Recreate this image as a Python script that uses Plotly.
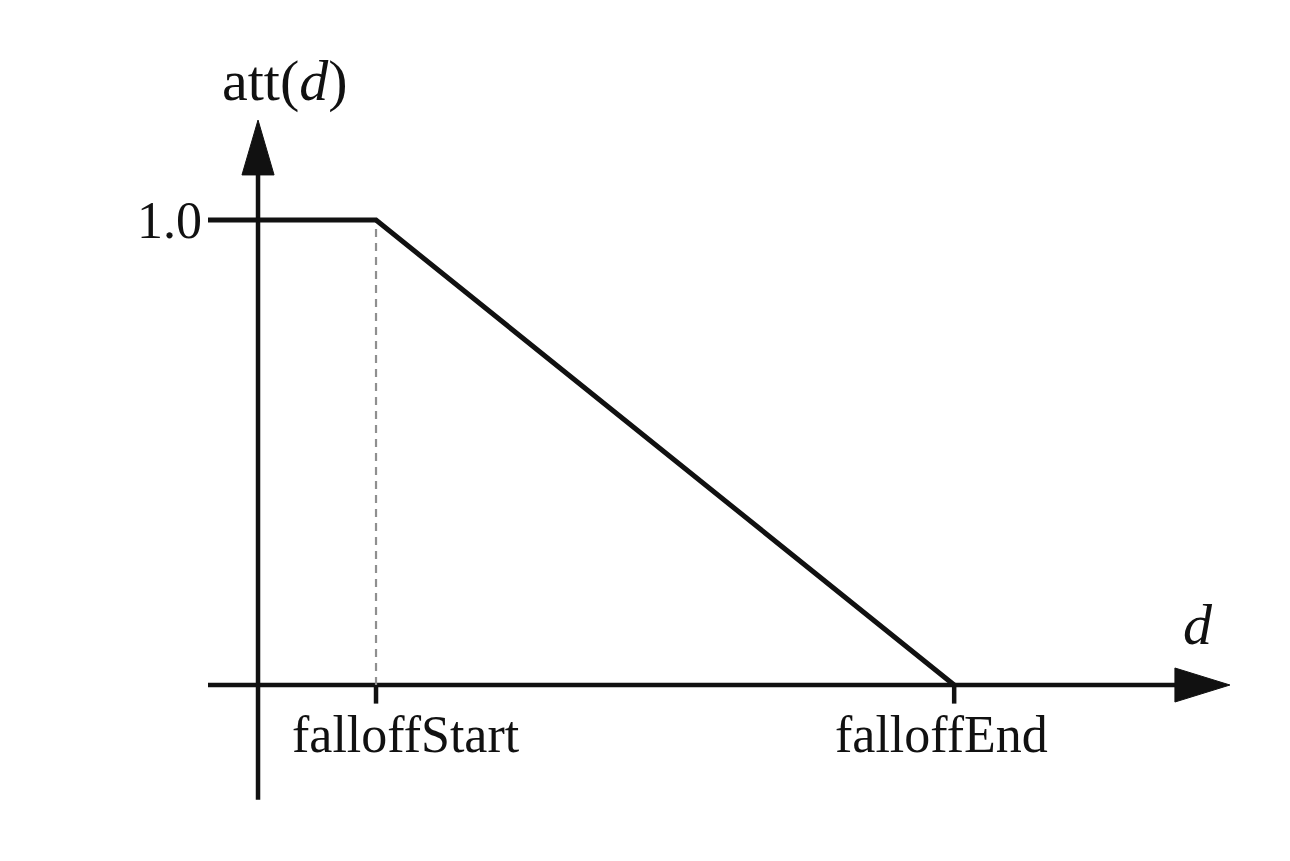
import plotly.graph_objects as go

# --- data ---
falloff_start = 1.0
falloff_end = 5.9
att_level = 1.0
curve_x = [-0.424, falloff_start, falloff_end]
curve_y = [att_level, att_level, 0.0]
tick_labels = ["falloffStart", "falloffEnd"]
tick_values = [falloff_start, falloff_end]
y_tick_label = "1.0"

# axis extents (data units)
x_min, x_max = -2.119, 8.814
y_min, y_max = -0.3957, 1.456
xaxis_start, xaxis_tip = -0.424, 8.237
yaxis_start, yaxis_tip = -0.247, 1.215

FONT = "Liberation Serif"
BLACK = "#111111"

fig = go.Figure()

# x axis line + arrow
fig.add_trace(go.Scatter(x=[xaxis_start, xaxis_tip - 0.4], y=[0, 0], mode="lines",
                         line=dict(color=BLACK, width=4.5), hoverinfo="skip", showlegend=False))
fig.add_trace(go.Scatter(x=[xaxis_tip - 0.466, xaxis_tip, xaxis_tip - 0.466, xaxis_tip - 0.466],
                         y=[0.0366, 0, -0.0366, 0.0366], mode="lines", fill="toself",
                         fillcolor=BLACK, line=dict(color=BLACK, width=1),
                         hoverinfo="skip", showlegend=False))
# y axis line + arrow
fig.add_trace(go.Scatter(x=[0, 0], y=[yaxis_start, yaxis_tip - 0.1], mode="lines",
                         line=dict(color=BLACK, width=4.5), hoverinfo="skip", showlegend=False))
fig.add_trace(go.Scatter(x=[-0.136, 0, 0.136, -0.136],
                         y=[yaxis_tip - 0.118, yaxis_tip, yaxis_tip - 0.118, yaxis_tip - 0.118],
                         mode="lines", fill="toself", fillcolor=BLACK,
                         line=dict(color=BLACK, width=1), hoverinfo="skip", showlegend=False))

# dashed guide
fig.add_trace(go.Scatter(x=[falloff_start, falloff_start], y=[0, att_level], mode="lines",
                         line=dict(color="#8f8f8f", width=2.2, dash="8px,6px"),
                         hoverinfo="skip", showlegend=False))

# ticks under x axis
for tv in tick_values:
    fig.add_trace(go.Scatter(x=[tv, tv], y=[0, -0.04], mode="lines",
                             line=dict(color=BLACK, width=4.5), hoverinfo="skip", showlegend=False))

# attenuation curve
fig.add_trace(go.Scatter(x=curve_x, y=curve_y, mode="lines",
                         line=dict(color=BLACK, width=5), hoverinfo="skip", showlegend=False))

ann = []
ann.append(dict(x=-0.46, y=att_level, text=y_tick_label, xanchor="right", yanchor="middle",
                showarrow=False, font=dict(family=FONT, size=52, color=BLACK)))
ann.append(dict(x=tick_values[0], y=-0.04, text=tick_labels[0], xanchor="center", yanchor="top",
                xshift=30, yshift=0, showarrow=False, font=dict(family=FONT, size=52, color=BLACK)))
ann.append(dict(x=tick_values[1], y=-0.04, text=tick_labels[1], xanchor="center", yanchor="top",
                xshift=-13, yshift=0, showarrow=False, font=dict(family=FONT, size=52, color=BLACK)))
ann.append(dict(x=0.229, y=1.30, text="att(<i>d</i>)", xanchor="center", yanchor="middle",
                showarrow=False, font=dict(family=FONT, size=58, color=BLACK)))
ann.append(dict(x=7.966, y=0.13, text="<i>d</i>", xanchor="center", yanchor="middle",
                showarrow=False, font=dict(family=FONT, size=58, color=BLACK)))

fig.update_layout(
    width=1290, height=861,
    margin=dict(l=0, r=0, t=0, b=0),
    paper_bgcolor="white", plot_bgcolor="white",
    xaxis=dict(range=[x_min, x_max], visible=False, fixedrange=True),
    yaxis=dict(range=[y_min, y_max], visible=False, fixedrange=True),
    annotations=ann,
    showlegend=False,
)

fig.write_html("out.html")
